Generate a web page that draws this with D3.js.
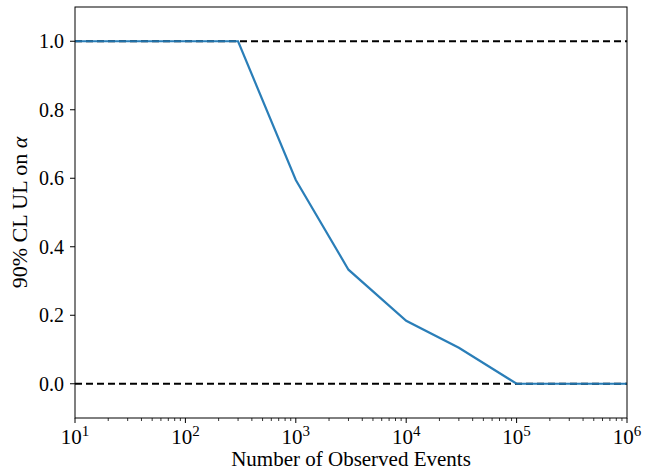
<!DOCTYPE html>
<html lang="en">
<head>
    <meta charset="UTF-8">
    <script src="https://cdn.jsdelivr.net/npm/d3@7"></script>
    <title>90% CL UL on alpha</title>
    <style>
        body { margin: 0; background: #fff; }
    </style>
</head>
<body>
<script>
    // data
    var nEvents = [10, 30, 100, 300, 1000, 3000, 10000, 30000, 100000, 300000, 1000000];
    var upperLimit = [1, 1, 1, 1, 0.595, 0.333, 0.184, 0.105, 0, 0, 0];
    var refLines = [0, 1];
    var yTicks = [0.0, 0.2, 0.4, 0.6, 0.8, 1.0];
    var xTicks = [1e1, 1e2, 1e3, 1e4, 1e5, 1e6];

    var w = 657, h = 473;
    var margin = {left: 75, right: 30, top: 7, bottom: 55};
    var serif = "'Liberation Serif'";

    var svg = d3.select("body").append("svg")
        .attr("width", w)
        .attr("height", h);

    var xScale = d3.scaleLog()
        .domain([1e1, 1e6])
        .range([margin.left, w - margin.right]);

    var yScale = d3.scaleLinear()
        .domain([-0.1, 1.1])
        .range([h - margin.bottom, margin.top]);

    // dashed reference lines
    svg.selectAll(".ref")
        .data(refLines)
        .enter()
        .append("line")
        .attr("x1", xScale(1e1))
        .attr("x2", xScale(1e6))
        .attr("y1", function (d) { return yScale(d); })
        .attr("y2", function (d) { return yScale(d); })
        .attr("stroke", "#000")
        .attr("stroke-width", 2)
        .attr("stroke-dasharray", "7,4");

    var line = d3.line()
        .x(function (d, i) { return xScale(nEvents[i]); })
        .y(function (d) { return yScale(d); });

    svg.append("path")
        .datum(upperLimit)
        .attr("d", line)
        .attr("fill", "none")
        .attr("stroke", "#1f77b4")
        .attr("stroke-width", 2.2)
        .attr("stroke-opacity", 0.95);

    // minor x ticks
    var minor = [];
    for (var e = 1; e < 6; e++) {
        for (var k = 2; k < 10; k++) minor.push(k * Math.pow(10, e));
    }
    svg.selectAll(".minor")
        .data(minor)
        .enter()
        .append("line")
        .attr("x1", function (d) { return xScale(d); })
        .attr("x2", function (d) { return xScale(d); })
        .attr("y1", h - margin.bottom)
        .attr("y2", h - margin.bottom + 3)
        .attr("stroke", "#000")
        .attr("stroke-width", 0.8);

    // major x ticks
    var gx = svg.append("g");
    gx.selectAll("line")
        .data(xTicks)
        .enter()
        .append("line")
        .attr("x1", function (d) { return xScale(d); })
        .attr("x2", function (d) { return xScale(d); })
        .attr("y1", h - margin.bottom)
        .attr("y2", h - margin.bottom + 5)
        .attr("stroke", "#000")
        .attr("stroke-width", 1);

    var xt = gx.selectAll("text")
        .data(xTicks)
        .enter()
        .append("text")
        .attr("x", function (d) { return xScale(d); })
        .attr("y", h - margin.bottom + 26)
        .attr("text-anchor", "middle")
        .style("font-family", serif)
        .attr("font-size", "21px");
    xt.append("tspan").text("10");
    xt.append("tspan")
        .attr("dy", -8)
        .attr("font-size", "15px")
        .text(function (d) { return Math.round(Math.log10(d)); });

    // y ticks
    var gy = svg.append("g");
    gy.selectAll("line")
        .data(yTicks)
        .enter()
        .append("line")
        .attr("x1", margin.left - 5)
        .attr("x2", margin.left)
        .attr("y1", function (d) { return yScale(d); })
        .attr("y2", function (d) { return yScale(d); })
        .attr("stroke", "#000")
        .attr("stroke-width", 1);

    gy.selectAll("text")
        .data(yTicks)
        .enter()
        .append("text")
        .attr("x", margin.left - 11)
        .attr("y", function (d) { return yScale(d) + 7; })
        .attr("text-anchor", "end")
        .style("font-family", serif)
        .attr("font-size", "20px")
        .text(function (d) { return d.toFixed(1); });

    // frame
    svg.append("rect")
        .attr("x", margin.left)
        .attr("y", margin.top)
        .attr("width", w - margin.left - margin.right)
        .attr("height", h - margin.top - margin.bottom)
        .attr("fill", "none")
        .attr("stroke", "#000")
        .attr("stroke-width", 1);

    // axis labels
    svg.append("text")
        .attr("x", (margin.left + w - margin.right) / 2)
        .attr("y", 466)
        .attr("text-anchor", "middle")
        .style("font-family", serif)
        .attr("font-size", "21px")
        .text("Number of Observed Events");

    var yl = svg.append("text")
        .attr("transform", "translate(27," + ((margin.top + h - margin.bottom) / 2) + ") rotate(-90)")
        .attr("text-anchor", "middle")
        .style("font-family", serif)
        .attr("font-size", "22px");
    yl.append("tspan").text("90% CL UL on ");
    yl.append("tspan").attr("font-style", "italic").text("α");
</script>
</body>
</html>
